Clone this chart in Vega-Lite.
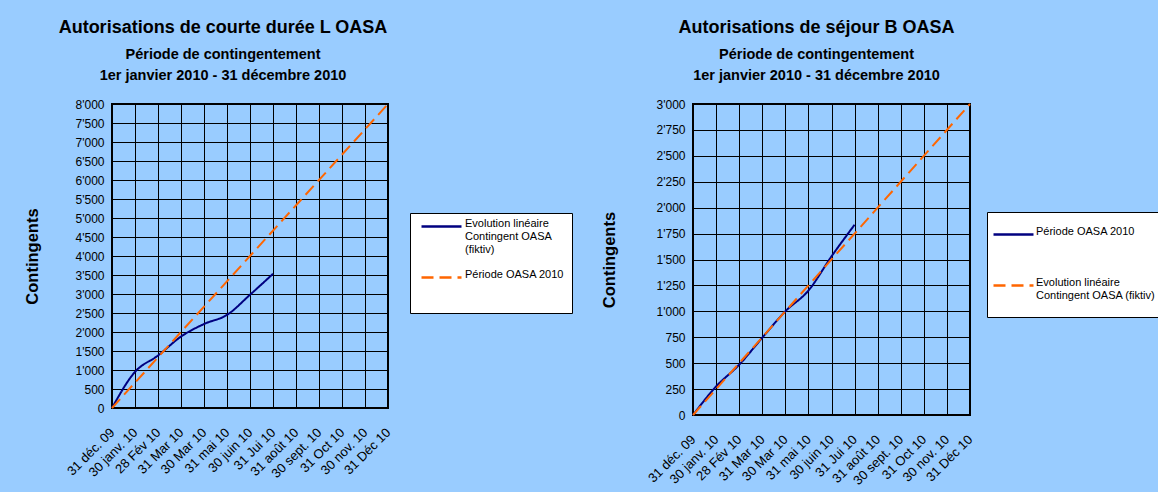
{
  "$schema": "https://vega.github.io/schema/vega-lite/v6.json",
  "background": "#99CCFF",
  "padding": {"left": 23, "top": 17, "right": 0, "bottom": 40},
  "spacing": 305,
  "bounds": "flush",
  "config": {
    "font": "Liberation Sans",
    "view": {"stroke": "black", "strokeWidth": 2},
    "title": {"fontSize": 18, "fontWeight": "bold", "color": "black", "subtitleFontSize": 14.5, "subtitleFontWeight": "bold", "subtitleColor": "black", "subtitleLineHeight": 21, "subtitlePadding": 11, "offset": 16, "anchor": "middle"},
    "axis": {"gridColor": "black", "gridOpacity": 1, "gridWidth": 1, "domain": false, "ticks": false, "labelColor": "black", "titleColor": "black", "labelFontSize": 12},
    "axisX": {"labelAngle": -45, "labelAlign": "right", "labelBaseline": "middle", "labelPadding": 22, "labelFontSize": 13, "title": null, "labelOverlap": false},
    "axisY": {"labelPadding": 8, "titleFontSize": 16.5, "titleFontWeight": "bold", "titlePadding": 35},
    "legend": {"orient": "none", "title": null, "fillColor": "white", "strokeColor": "black", "symbolType": "M-1,0H7", "symbolSize": 100, "symbolStrokeWidth": 2.5, "labelFontSize": 11, "labelLimit": 300, "labelBaseline": "alphabetic", "labelColor": "black"}
  },
  "resolve": {
    "scale": {"color": "independent", "strokeDash": "independent", "x": "independent", "y": "independent"},
    "legend": {"color": "independent", "strokeDash": "independent"}
  },
  "hconcat": [
    {
      "width": 276,
      "height": 304,
      "title": {"text": "Autorisations de courte durée L OASA", "subtitle": ["Période de contingentement", "1er janvier 2010 - 31 décembre 2010"], "dx": -27},
      "data": {"values": [
        {"date": "31 déc. 09", "value": 0, "series": "Evolution linéaire|Contingent OASA|(fiktiv)"},
        {"date": "30 janv. 10", "value": 950, "series": "Evolution linéaire|Contingent OASA|(fiktiv)"},
        {"date": "28 Fév 10", "value": 1380, "series": "Evolution linéaire|Contingent OASA|(fiktiv)"},
        {"date": "31 Mar 10", "value": 1880, "series": "Evolution linéaire|Contingent OASA|(fiktiv)"},
        {"date": "30 Mar 10", "value": 2210, "series": "Evolution linéaire|Contingent OASA|(fiktiv)"},
        {"date": "31 mai 10", "value": 2450, "series": "Evolution linéaire|Contingent OASA|(fiktiv)"},
        {"date": "30 juin 10", "value": 2980, "series": "Evolution linéaire|Contingent OASA|(fiktiv)"},
        {"date": "31 Jui 10", "value": 3530, "series": "Evolution linéaire|Contingent OASA|(fiktiv)"},
        {"date": "31 déc. 09", "value": 0, "series": "Période OASA 2010| | "},
        {"date": "31 Déc 10", "value": 8000, "series": "Période OASA 2010| | "}
      ]},
      "mark": {"type": "line", "strokeWidth": 2, "interpolate": "monotone"},
      "encoding": {
        "x": {"field": "date", "type": "ordinal",
          "scale": {"type": "point", "padding": 0, "domain": ["31 déc. 09", "30 janv. 10", "28 Fév 10", "31 Mar 10", "30 Mar 10", "31 mai 10", "30 juin 10", "31 Jui 10", "31 août 10", "30 sept. 10", "31 Oct 10", "30 nov. 10", "31 Déc 10"]},
          "axis": {"grid": true}},
        "y": {"field": "value", "type": "quantitative",
          "scale": {"domain": [0, 8000], "nice": false},
          "axis": {"title": "Contingents", "values": [0, 500, 1000, 1500, 2000, 2500, 3000, 3500, 4000, 4500, 5000, 5500, 6000, 6500, 7000, 7500, 8000], "labelExpr": "replace(format(datum.value, ','), ',', \"'\")"}},
        "color": {"field": "series", "type": "nominal",
          "scale": {"domain": ["Evolution linéaire|Contingent OASA|(fiktiv)", "Période OASA 2010| | "], "range": ["#000080", "#FF6600"]},
          "legend": {"legendX": 298, "legendY": 109, "padding": 7, "symbolOffset": 3, "labelOffset": 32, "rowPadding": 13, "labelExpr": "split(datum.label, '|')"}},
        "strokeDash": {"field": "series", "type": "nominal",
          "scale": {"domain": ["Evolution linéaire|Contingent OASA|(fiktiv)", "Période OASA 2010| | "], "range": [[1, 0], [12, 6]]},
          "legend": {"legendX": 298, "legendY": 109, "padding": 7, "symbolOffset": 3, "labelOffset": 32, "rowPadding": 13, "labelExpr": "split(datum.label, '|')"}}
      }
    },
    {
      "width": 277,
      "height": 311,
      "title": {"text": "Autorisations de séjour B OASA", "subtitle": ["Période de contingentement", "1er janvier 2010 - 31 décembre 2010"], "dx": -15},
      "data": {"values": [
        {"date": "31 déc. 09", "value": 0, "series": "Période OASA 2010"},
        {"date": "30 janv. 10", "value": 275, "series": "Période OASA 2010"},
        {"date": "28 Fév 10", "value": 485, "series": "Période OASA 2010"},
        {"date": "31 Mar 10", "value": 745, "series": "Période OASA 2010"},
        {"date": "30 Mar 10", "value": 1000, "series": "Période OASA 2010"},
        {"date": "31 mai 10", "value": 1200, "series": "Période OASA 2010"},
        {"date": "30 juin 10", "value": 1530, "series": "Période OASA 2010"},
        {"date": "31 Jui 10", "value": 1835, "series": "Période OASA 2010"},
        {"date": "31 déc. 09", "value": 0, "series": "Evolution linéaire|Contingent OASA (fiktiv)"},
        {"date": "31 Déc 10", "value": 3000, "series": "Evolution linéaire|Contingent OASA (fiktiv)"}
      ]},
      "mark": {"type": "line", "strokeWidth": 2, "interpolate": "monotone"},
      "encoding": {
        "x": {"field": "date", "type": "ordinal",
          "scale": {"type": "point", "padding": 0, "domain": ["31 déc. 09", "30 janv. 10", "28 Fév 10", "31 Mar 10", "30 Mar 10", "31 mai 10", "30 juin 10", "31 Jui 10", "31 août 10", "30 sept. 10", "31 Oct 10", "30 nov. 10", "31 Déc 10"]},
          "axis": {"grid": true}},
        "y": {"field": "value", "type": "quantitative",
          "scale": {"domain": [0, 3000], "nice": false},
          "axis": {"title": "Contingents", "titlePadding": 39, "values": [0, 250, 500, 750, 1000, 1250, 1500, 1750, 2000, 2250, 2500, 2750, 3000], "labelExpr": "replace(format(datum.value, ','), ',', \"'\")"}},
        "color": {"field": "series", "type": "nominal",
          "scale": {"domain": ["Période OASA 2010", "Evolution linéaire|Contingent OASA (fiktiv)"], "range": ["#000080", "#FF6600"]},
          "legend": {"legendX": 294, "legendY": 108, "padding": 16, "symbolOffset": -11, "labelOffset": 31, "rowPadding": 36, "labelExpr": "split(datum.label, '|')"}},
        "strokeDash": {"field": "series", "type": "nominal",
          "scale": {"domain": ["Période OASA 2010", "Evolution linéaire|Contingent OASA (fiktiv)"], "range": [[1, 0], [12, 6]]},
          "legend": {"legendX": 294, "legendY": 108, "padding": 16, "symbolOffset": -11, "labelOffset": 31, "rowPadding": 36, "labelExpr": "split(datum.label, '|')"}}
      }
    }
  ]
}
